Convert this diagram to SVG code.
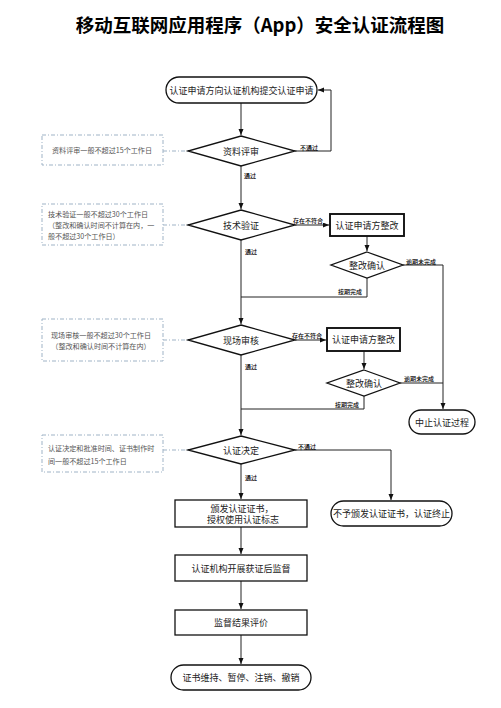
<svg xmlns="http://www.w3.org/2000/svg" width="501" height="708" viewBox="0 0 501 708">
<defs>
<marker id="arr" markerUnits="userSpaceOnUse" markerWidth="7" markerHeight="6" refX="6" refY="2.5" orient="auto">
<path d="M0,0 L6,2.5 L0,5 z" fill="#111"/>
</marker>
<style>
text{font-family:"Noto Sans CJK SC","Liberation Sans",sans-serif;}
.title{font-size:18.5px;font-weight:bold;fill:#000;}
.n{font-size:9px;fill:#222;text-anchor:middle;dominant-baseline:central;}
.lbl{font-size:6px;fill:#000;font-weight:500;dominant-baseline:central;}
.note{font-size:7.1px;fill:#555;dominant-baseline:central;}
.shape{fill:#fff;stroke:#111;stroke-width:1.3;}
.thick{fill:#fff;stroke:#111;stroke-width:1.9;}
.ntbox{fill:none;stroke:#9fb3c6;stroke-width:1;stroke-dasharray:4 2 1 2;}
.dash{fill:none;stroke:#9fb3c6;stroke-width:1;stroke-dasharray:4 2 1 2;}
.c{fill:none;stroke:#222;stroke-width:1;}
</style>
</defs>
<rect width="501" height="708" fill="#fff"/>
<text class="title" x="260" y="24" text-anchor="middle" dominant-baseline="central">移动互联网应用程序（App）安全认证流程图</text>

<g id="connectors">
<path class="c" d="M241,103 V135" marker-end="url(#arr)"/>
<path class="c" d="M295,151 H331 V90 H318" marker-end="url(#arr)"/>
<path class="c" d="M241,166 V209" marker-end="url(#arr)"/>
<path class="c" d="M295,225 H329" marker-end="url(#arr)"/>
<path class="c" d="M367,236 V251" marker-end="url(#arr)"/>
<path class="c" d="M403,265 H443 V409" marker-end="url(#arr)"/>
<path class="c" d="M367,278 V297 H241"/>
<path class="c" d="M241,240 V324" marker-end="url(#arr)"/>
<path class="c" d="M295,340 H326" marker-end="url(#arr)"/>
<path class="c" d="M364,351 V369" marker-end="url(#arr)"/>
<path class="c" d="M400,383 H443"/>
<path class="c" d="M364,396 V409 H241"/>
<path class="c" d="M241,355 V435" marker-end="url(#arr)"/>
<path class="c" d="M295,450 H391 V500" marker-end="url(#arr)"/>
<path class="c" d="M241,464 V499" marker-end="url(#arr)"/>
<path class="c" d="M241,527 V554" marker-end="url(#arr)"/>
<path class="c" d="M241,581 V609" marker-end="url(#arr)"/>
<path class="c" d="M241,635 V664" marker-end="url(#arr)"/>
<path class="dash" d="M163,151 H188"/>
<path class="dash" d="M163,225 H188"/>
<path class="dash" d="M163,340 H188"/>
<path class="dash" d="M163,450 H188"/>
<text class="lbl" x="300" y="147">不通过</text>
<text class="lbl" x="244" y="175">通过</text>
<text class="lbl" x="293" y="220">存在不符合</text>
<text class="lbl" x="406" y="261">逾期未完成</text>
<text class="lbl" x="338" y="291">按期完成</text>
<text class="lbl" x="245" y="251">通过</text>
<text class="lbl" x="292" y="335">存在不符合</text>
<text class="lbl" x="404" y="378">逾期未完成</text>
<text class="lbl" x="335" y="404">按期完成</text>
<text class="lbl" x="245" y="366">通过</text>
<text class="lbl" x="298" y="446">不通过</text>
<text class="lbl" x="245" y="477">通过</text>
</g>

<g id="start">
<rect class="shape" x="166" y="77" width="151" height="26" rx="13"/>
<text class="n" x="241.5" y="90">认证申请方向认证机构提交认证申请</text>
</g>
<g id="d-material">
<polygon class="shape" points="241,136 295,151 241,166 188,151"/>
<text class="n" x="241" y="151">资料评审</text>
</g>
<g id="d-tech">
<polygon class="shape" points="241,210 295,225 241,240 188,225"/>
<text class="n" x="241" y="225">技术验证</text>
</g>
<g id="fix1">
<rect class="thick" x="330" y="214" width="74" height="22"/>
<text class="n" x="367" y="225">认证申请方整改</text>
</g>
<g id="d-confirm1">
<polygon class="shape" points="367,252 403,265 367,278 331,265"/>
<text class="n" x="367" y="265">整改确认</text>
</g>
<g id="d-site">
<polygon class="shape" points="241,325 295,340 241,355 188,340"/>
<text class="n" x="241" y="340">现场审核</text>
</g>
<g id="fix2">
<rect class="thick" x="327" y="328" width="73" height="23"/>
<text class="n" x="363.5" y="339.5">认证申请方整改</text>
</g>
<g id="d-confirm2">
<polygon class="shape" points="364,370 400,383 364,396 327,383"/>
<text class="n" x="364" y="383">整改确认</text>
</g>
<g id="stop">
<rect class="shape" x="409" y="410" width="66" height="24" rx="12"/>
<text class="n" x="442" y="422">中止认证过程</text>
</g>
<g id="d-decision">
<polygon class="shape" points="241,436 295,450 241,464 188,450"/>
<text class="n" x="241" y="450">认证决定</text>
</g>
<g id="reject">
<rect class="shape" x="331" y="501" width="121" height="25" rx="12.5"/>
<text class="n" x="391.5" y="513.5">不予颁发认证证书，认证终止</text>
</g>
<g id="issue">
<rect class="shape" x="175" y="500" width="132" height="27"/>
<text class="n" x="242" y="508">颁发认证证书，</text>
<text class="n" x="243" y="519.5">授权使用认证标志</text>
</g>
<g id="supervise">
<rect class="shape" x="175" y="555" width="132" height="26"/>
<text class="n" x="241" y="568">认证机构开展获证后监督</text>
</g>
<g id="evaluate">
<rect class="shape" x="175" y="610" width="132" height="25"/>
<text class="n" x="241" y="622.5">监督结果评价</text>
</g>
<g id="end">
<rect class="shape" x="171" y="665" width="140" height="25" rx="12.5"/>
<text class="n" x="241" y="677.5">证书维持、暂停、注销、撤销</text>
</g>

<g id="note1">
<rect class="ntbox" x="42" y="135" width="121" height="30"/>
<text class="note" x="102" y="150" text-anchor="middle">资料评审一般不超过15个工作日</text>
</g>
<g id="note2">
<rect class="ntbox" x="42" y="204" width="121" height="41"/>
<text class="note" x="48" y="214">技术验证一般不超过30个工作日</text>
<text class="note" x="48" y="225">（整改和确认时间不计算在内，一</text>
<text class="note" x="48" y="236">般不超过30个工作日）</text>
</g>
<g id="note3">
<rect class="ntbox" x="42" y="319" width="121" height="42"/>
<text class="note" x="101" y="335" text-anchor="middle">现场审核一般不超过30个工作日</text>
<text class="note" x="101" y="346" text-anchor="middle">（整改和确认时间不计算在内）</text>
</g>
<g id="note4">
<rect class="ntbox" x="42" y="435" width="121" height="37"/>
<text class="note" x="48" y="448">认证决定和批准时间、证书制作时</text>
<text class="note" x="48" y="461">间一般不超过15个工作日</text>
</g>
</svg>
